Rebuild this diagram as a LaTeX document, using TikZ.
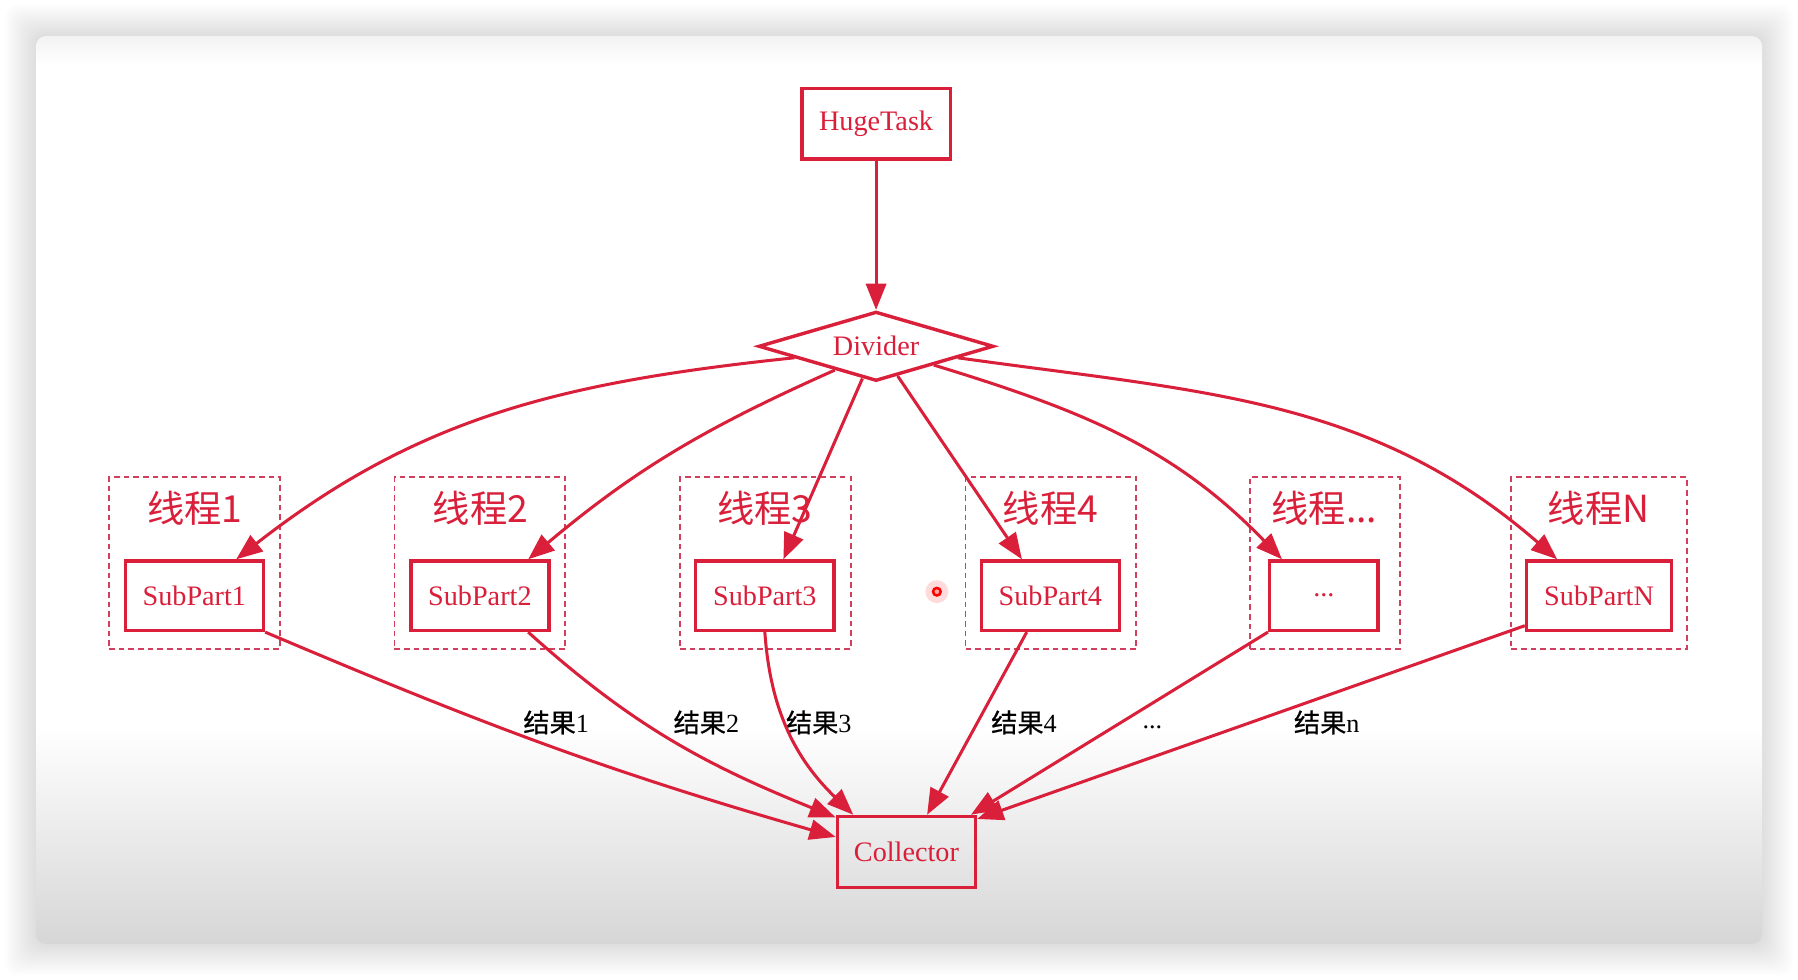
\documentclass[tikz,border=0pt]{standalone}
\usepackage{fontspec}
\setmainfont{Liberation Serif}
\newfontfamily\cjk{Noto Sans CJK SC}
\newfontfamily\cjkres[FakeBold=0.7]{Noto Sans CJK SC}
\usetikzlibrary{arrows.meta, shapes.geometric, positioning}
\definecolor{graphred}{RGB}{217,31,58}
\definecolor{threadred}{RGB}{210,62,94}
\definecolor{cardtop}{gray}{0.95}
\definecolor{cardbot}{gray}{0.84}
\pgfdeclareverticalshading{cardshade}{100bp}{color(0bp)=(cardbot);
  color(25bp)=(cardbot); color(37bp)=(white); color(73.4bp)=(white);
  color(75bp)=(cardtop); color(100bp)=(cardtop)}
\tikzset{%
  >={Triangle[length=13pt,width=10pt]},
  % Specifications for style of nodes:
         base/.style = {rectangle, draw=graphred, line width=1.7pt,
                        text=graphred, inner sep=0pt,
                        font=\fontsize{14}{16}\selectfont},
         task/.style = {base, minimum width=2.59cm, minimum height=1.23cm},
    splitter/.style = {base, diamond, aspect=3.4, minimum width=4.1cm,
                        minimum height=1.21cm},
      subpart/.style = {base, minimum width=2.41cm, minimum height=1.21cm},
    collector/.style = {base, minimum width=2.41cm, minimum height=1.24cm},
       thread/.style = {rectangle, draw=threadred, line width=0.9pt,
                        dash pattern=on 2.8pt off 2pt, minimum height=3cm,
                        inner sep=0pt},
  threadlabel/.style = {text=graphred, inner sep=0pt,
                        font=\cjk\fontsize{18.5}{20}\selectfont},
       result/.style = {text=black, inner sep=0pt,
                        font=\fontsize{13}{15}\selectfont},
         flow/.style = {->, draw=graphred, line width=1.5pt},
}

\begin{document}
\begin{tikzpicture}[x=0.02cm, y=0.02cm]
  % Card in the background, with its shadow
  \useasboundingbox (0,0) rectangle (1568,-854.6);
  \fill[white] (0,0) rectangle (1568,-854.6);
  \foreach \s in {1,...,16}
    \fill[black, opacity=0.009, rounded corners=6pt]
      (31.4-1.7*\s,-31.4+1.7*\s) rectangle (1536.6+1.7*\s,-823.2-1.7*\s);
  \shade[shading=cardshade, rounded corners=5pt]
      (31.4,-31.4) rectangle (1536.6,-823.2);
  % Specification of nodes (position, etc.)
  \node (hugeTask)    [task]      at (764,-108)   {HugeTask};
  \node (divider)     [splitter]  at (764,-302)   {Divider};
  % one dashed frame per thread
  \node (thread1)     [thread, minimum width=2.98cm] at (169.5,-491)  {};
  \node (thread2)     [thread, minimum width=2.98cm] at (418.5,-491)  {};
  \node (thread3)     [thread, minimum width=2.98cm] at (667.5,-491)  {};
  \node (thread4)     [thread, minimum width=2.98cm] at (916.5,-491)  {};
  \node (threadDots)  [thread, minimum width=2.62cm] at (1155.5,-491) {};
  \node (threadN)     [thread, minimum width=3.06cm] at (1394.5,-491) {};
  \node (title1)      [threadlabel] at (170,-443)  {线程1};
  \node (title2)      [threadlabel] at (419,-443)  {线程2};
  \node (title3)      [threadlabel] at (667,-443)  {线程3};
  \node (title4)      [threadlabel] at (916,-443)  {线程4};
  \node (titleDots)   [threadlabel] at (1155,-443) {线程...};
  \node (titleN)      [threadlabel] at (1394,-443) {线程N};
  \node (subPart1)    [subpart]   at (169.5,-519.5)  {SubPart1};
  \node (subPart2)    [subpart]   at (418.5,-519.5)  {SubPart2};
  \node (subPart3)    [subpart]   at (667,-519.5)    {SubPart3};
  \node (subPart4)    [subpart]   at (916,-519.5)    {SubPart4};
  \node (subPartDots) [subpart, minimum width=1.89cm] at (1154.5,-519.5) {...};
  \node (subPartN)    [subpart, minimum width=2.53cm] at (1394.5,-519.5) {SubPartN};
  \node (collect)     [collector] at (790.5,-743) {Collector};
  % labels of the results
  \node (result1)     [result] at (485,-630)  {{\cjkres 结果}1};
  \node (result2)     [result] at (616,-630)  {{\cjkres 结果}2};
  \node (result3)     [result] at (714,-630)  {{\cjkres 结果}3};
  \node (result4)     [result] at (893,-630)  {{\cjkres 结果}4};
  \node (resultDots)  [result] at (1005,-634) {...};
  \node (resultN)     [result] at (1157,-630) {{\cjkres 结果}n};
  % Specification of lines between nodes specified above
  \draw[flow]     (hugeTask) -- (divider);
  \draw[flow]  (divider.188) to[out=186, in=38]  (subPart1.41);
  \draw[flow]  (divider.210) to[out=204, in=40]  (subPart2.37);
  \draw[flow]  (divider.247) -- (subPart3.63);
  \draw[flow]  (divider.306) -- (subPart4.128);
  \draw[flow]  (divider.342) to[out=-17, in=134] (subPartDots.139);
  \draw[flow]  (divider.352) to[out=-8, in=139]  (subPartN.139);
  \draw[flow] (subPart1.south east) to[out=-23, in=164] (collect.168);
  \draw[flow]      (subPart2.-37) to[out=-42, in=158] (collect.154);
  \draw[flow]     (subPart3.south) to[out=-86, in=136] (collect.145);
  \draw[flow]      (subPart4.237) -- (collect.61);
  \draw[flow] (subPartDots.south west) -- (collect.30);
  \draw[flow]      (subPartN.202) -- (collect.25);
  % pointer dot
  \fill[red!20, opacity=0.7] (817,-516) circle (10);
  \fill[red] (817,-516) circle (4.5);
  \fill[red!35] (817,-516) circle (2);
\end{tikzpicture}
\end{document}
